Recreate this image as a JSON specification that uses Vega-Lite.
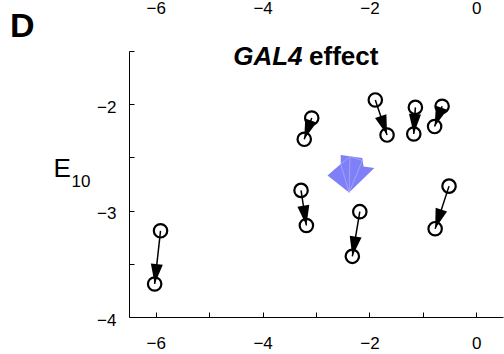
{
  "$schema": "https://vega.github.io/schema/vega-lite/v6.json",
  "width": 374,
  "height": 266,
  "autosize": "none",
  "padding": {"left": 129, "top": 51, "right": 1, "bottom": 37},
  "background": "white",
  "config": {
    "view": {"stroke": null},
    "font": "Liberation Sans",
    "axis": {
      "grid": false,
      "domainColor": "black",
      "tickColor": "black",
      "labelColor": "black",
      "titleColor": "black",
      "domainWidth": 1,
      "tickWidth": 1,
      "labelFont": "Liberation Sans",
      "titleFont": "Liberation Sans",
      "labelFontSize": 17,
      "labelFlush": false
    }
  },
  "title": {
    "text": "D",
    "anchor": "start",
    "frame": "group",
    "orient": "top",
    "offset": 0,
    "baseline": "alphabetic",
    "font": "Liberation Sans",
    "fontSize": 34,
    "fontWeight": "bold",
    "color": "black",
    "dx": -119,
    "dy": 72
  },
  "datasets": {
    "pairs": [
      {"x0": -5.91, "y0": -3.19, "x1": -6.02, "y1": -3.69},
      {"x0": -3.08, "y0": -2.13, "x1": -3.22, "y1": -2.33},
      {"x0": -1.89, "y0": -1.96, "x1": -1.67, "y1": -2.29},
      {"x0": -1.14, "y0": -2.03, "x1": -1.17, "y1": -2.28},
      {"x0": -0.64, "y0": -2.02, "x1": -0.78, "y1": -2.21},
      {"x0": -3.28, "y0": -2.81, "x1": -3.18, "y1": -3.14},
      {"x0": -2.18, "y0": -3.01, "x1": -2.32, "y1": -3.43},
      {"x0": -0.51, "y0": -2.77, "x1": -0.77, "y1": -3.17}
    ],
    "shift": [{"x": -2.38, "y": -2.83}],
    "heading": [{"italic": "GAL4", "plain": "effect"}]
  },
  "resolve": {"axis": {"x": "independent", "y": "independent"}},
  "layer": [
    {
      "data": {"name": "pairs"},
      "mark": {"type": "rule", "color": "black", "strokeWidth": 1.5},
      "encoding": {
        "x": {
          "field": "x0",
          "type": "quantitative",
          "scale": {"domain": [-6.5, 0.5], "nice": false, "zero": false},
          "axis": {
            "orient": "bottom",
            "values": [-6, -5, -4, -3, -2, -1, 0],
            "labelExpr": "datum.value % 2 == 0 ? format(datum.value, 'd') : ''",
            "tickSize": -5,
            "labelPadding": 23,
            "labelFontSize": 17,
            "title": "10",
            "titleX": -58,
            "titleY": -131,
            "titleAlign": "left",
            "titleBaseline": "alphabetic",
            "titleFontSize": 17,
            "titleFontWeight": "normal"
          }
        },
        "y": {
          "field": "y0",
          "type": "quantitative",
          "scale": {"domain": [-4, -1.5], "nice": false, "zero": false},
          "axis": {
            "orient": "left",
            "values": [-4, -3.5, -3, -2.5, -2, -1.5],
            "labelExpr": "datum.value % 1 == 0 ? format(datum.value, 'd') : ''",
            "tickSize": -5,
            "labelPadding": 18,
            "labelOffset": 3,
            "labelFontSize": 17,
            "title": "E",
            "titleAngle": 0,
            "titleX": -76,
            "titleY": 125,
            "titleAlign": "left",
            "titleBaseline": "alphabetic",
            "titleFontSize": 26,
            "titleFontWeight": "normal"
          }
        },
        "x2": {"field": "x1"},
        "y2": {"field": "y1"}
      }
    },
    {
      "data": {"name": "pairs"},
      "mark": {
        "type": "point",
        "shape": "M0,0L-0.3,1L0.3,1Z",
        "filled": true,
        "color": "black",
        "opacity": 1,
        "size": 1600,
        "angle": {"expr": "atan2(scale('x', datum.x1) - scale('x', datum.x0), scale('y', datum.y0) - scale('y', datum.y1)) * 180 / PI"}
      },
      "encoding": {
        "x": {"field": "x1", "type": "quantitative", "axis": null},
        "y": {"field": "y1", "type": "quantitative", "axis": null}
      }
    },
    {
      "data": {"name": "pairs"},
      "mark": {"type": "point", "shape": "circle", "filled": false, "color": "black", "strokeWidth": 2.2, "opacity": 1, "size": 180},
      "encoding": {
        "x": {
          "field": "x0",
          "type": "quantitative",
          "axis": {
            "orient": "top",
            "values": [-6, -4, -2, 0],
            "labelExpr": "format(datum.value, 'd')",
            "domain": false,
            "ticks": false,
            "labelPadding": 38,
            "labelBaseline": "alphabetic",
            "labelFontSize": 17,
            "title": null
          }
        },
        "y": {"field": "y0", "type": "quantitative", "axis": null}
      }
    },
    {
      "data": {"name": "pairs"},
      "mark": {"type": "point", "shape": "circle", "filled": false, "color": "black", "strokeWidth": 2.2, "opacity": 1, "size": 180},
      "encoding": {
        "x": {"field": "x1", "type": "quantitative", "axis": null},
        "y": {"field": "y1", "type": "quantitative", "axis": null}
      }
    },
    {
      "data": {"name": "shift"},
      "mark": {
        "type": "point",
        "shape": "M0,0L-0.54,-0.425L-0.21,-0.71L-0.21,-0.94L0.33,-0.86L0.36,-0.65L0.63,-0.61Z",
        "filled": true,
        "color": "#7f7ff7",
        "opacity": 1,
        "size": 6400
      },
      "encoding": {
        "x": {"field": "x", "type": "quantitative", "axis": null},
        "y": {"field": "y", "type": "quantitative", "axis": null}
      }
    },
    {
      "data": {"name": "shift"},
      "mark": {
        "type": "point",
        "shape": "M0,0L-0.21,-0.71M0,0L0.02,-0.9M0,0L0.33,-0.8M-0.21,-0.71L0.02,-0.9L0.33,-0.8",
        "filled": false,
        "color": "#b0b0fb",
        "strokeWidth": 0.7,
        "opacity": 1,
        "size": 6400
      },
      "encoding": {
        "x": {"field": "x", "type": "quantitative", "axis": null},
        "y": {"field": "y", "type": "quantitative", "axis": null}
      }
    },
    {
      "data": {"name": "heading"},
      "mark": {"type": "text", "font": "Liberation Sans", "fontSize": 26, "fontWeight": "bold", "fontStyle": "italic", "align": "left", "baseline": "alphabetic", "color": "black"},
      "encoding": {
        "text": {"field": "italic"},
        "x": {"datum": -4.55, "type": "quantitative", "axis": null},
        "y": {"datum": -1.635, "type": "quantitative", "axis": null}
      }
    },
    {
      "data": {"name": "heading"},
      "mark": {"type": "text", "font": "Liberation Sans", "fontSize": 26, "fontWeight": "bold", "align": "left", "baseline": "alphabetic", "color": "black"},
      "encoding": {
        "text": {"field": "plain"},
        "x": {"datum": -3.13, "type": "quantitative", "axis": null},
        "y": {"datum": -1.635, "type": "quantitative", "axis": null}
      }
    }
  ]
}
